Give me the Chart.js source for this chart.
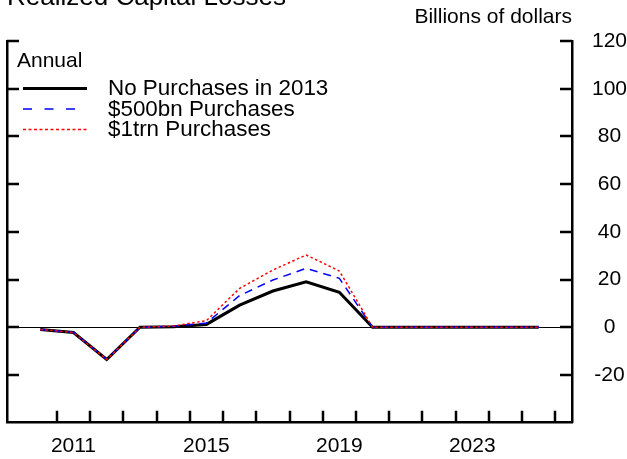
<!DOCTYPE html>
<html>
<head>
<meta charset="utf-8">
<script src="https://cdn.jsdelivr.net/npm/chart.js@4"></script>
<style>
  html, body { margin: 0; padding: 0; background: #fff; }
  #wrap { width: 627px; height: 459px; }
</style>
</head>
<body>
<div id="wrap"><canvas id="myChart" width="627" height="459"></canvas></div>
<script>
// data (billions of dollars, annual)
var years = [2010, 2011, 2012, 2013, 2014, 2015, 2016, 2017, 2018, 2019, 2020, 2021, 2022, 2023, 2024, 2025];
var noPurchases = [-0.9, -2.2, -13.5, 0, 0.2, 1.2, 9.3, 15.2, 19.1, 14.7, 0, 0, 0, 0, 0, 0];
var purch500bn  = [-0.9, -2.2, -13.5, 0, 0.4, 1.8, 13.3, 19.8, 24.7, 20.5, 0, 0, 0, 0, 0, 0];
var purch1trn   = [-0.9, -2.2, -13.5, 0, 0.5, 2.8, 16.3, 24.0, 30.3, 23.6, 0, 0, 0, 0, 0, 0];
var xTickLabels = [2011, 2015, 2019, 2023];
var seriesNames = ['No Purchases in 2013', '$500bn Purchases', '$1trn Purchases'];

var FONT = '"Liberation Sans", Arial, Helvetica, sans-serif';

function pts(vals) {
  return years.map(function(y, i) { return { x: y, y: vals[i] }; });
}

// title, unit label, "Annual" and the legend
var textPlugin = {
  id: 'texts',
  afterDraw: function(chart) {
    var c = chart.ctx;
    c.save();
    c.fillStyle = '#000';
    c.textBaseline = 'alphabetic';
    c.font = '26px ' + FONT;
    c.textAlign = 'left';
    c.fillText('Realized Capital Losses', 7, 5);
    c.font = '21px ' + FONT;
    c.textAlign = 'right';
    c.fillText('Billions of dollars', 572, 23);
    c.textAlign = 'left';
    c.fillText('Annual', 17, 67);

    c.font = '22.4px ' + FONT;
    var legDash = [[], [9, 12.5], [3, 2.5]];
    chart.data.datasets.forEach(function(ds, i) {
      var y = 88.5 + i * 20.5;
      c.beginPath();
      c.strokeStyle = ds.borderColor;
      c.lineWidth = ds.borderWidth;
      c.setLineDash(legDash[i]);
      c.moveTo(23, y);
      c.lineTo(87, y);
      c.stroke();
      c.setLineDash([]);
      c.textBaseline = 'middle';
      c.fillText(ds.label, 108, y + 0.5);
    });
    c.restore();
  }
};

// inward tick marks on left, right and bottom axes
var tickPlugin = {
  id: 'inTicks',
  afterDraw: function(chart) {
    var c = chart.ctx, xs = chart.scales.x, ys = chart.scales.y;
    var a = chart.chartArea, len = 12;
    c.save();
    c.strokeStyle = '#000';
    c.lineWidth = 2.5;
    c.beginPath();
    ys.ticks.forEach(function(t) {
      if (t.value <= ys.min) return;
      var py = Math.round(ys.getPixelForValue(t.value));
      c.moveTo(a.left, py); c.lineTo(a.left + len, py);
      c.moveTo(a.right, py); c.lineTo(a.right - len, py);
    });
    years.forEach(function(yr) {
      var px = Math.round(xs.getPixelForValue(yr + 0.5));
      c.moveTo(px, a.bottom); c.lineTo(px, a.bottom - len);
    });
    c.stroke();
    c.restore();
  }
};

var ctx = document.getElementById('myChart').getContext('2d');

var myChart = new Chart(ctx, {
  type: 'line',
  data: {
    datasets: [{
      label: seriesNames[0],
      data: pts(noPurchases),
      borderColor: '#000000',
      borderWidth: 3,
      pointRadius: 0,
      tension: 0,
      order: 3
    }, {
      label: seriesNames[1],
      data: pts(purch500bn),
      borderColor: '#0000ff',
      borderWidth: 1.5,
      borderDash: [8, 6],
      pointRadius: 0,
      tension: 0,
      order: 2
    }, {
      label: seriesNames[2],
      data: pts(purch1trn),
      borderColor: '#ff0000',
      borderWidth: 1.5,
      borderDash: [2.5, 2.5],
      pointRadius: 0,
      tension: 0,
      order: 1
    }]
  },
  options: {
    responsive: false,
    animation: false,
    layout: { padding: { top: 41, left: 7, right: 0, bottom: 0 } },
    plugins: {
      legend: { display: false },
      tooltip: { enabled: false }
    },
    scales: {
      x: {
        type: 'linear',
        min: 2009,
        max: 2026,
        afterBuildTicks: function(s) {
          s.ticks = xTickLabels.map(function(v) { return { value: v }; });
        },
        afterFit: function(s) { s.height = 36.3; },
        ticks: {
          color: '#000',
          font: { family: FONT, size: 21 },
          padding: 11,
          maxRotation: 0,
          callback: function(v) { return String(v); }
        },
        grid: { drawOnChartArea: false, drawTicks: false },
        border: { color: '#000', width: 2.5 }
      },
      y: {
        position: 'right',
        min: -40,
        max: 120,
        afterFit: function(s) { s.width = 55; },
        ticks: {
          stepSize: 20,
          color: '#000',
          font: { family: FONT, size: 21 },
          crossAlign: 'center',
          padding: 20,
          callback: function(v) { return v === -40 ? '' : v; }
        },
        grid: {
          drawTicks: false,
          lineWidth: 1,
          color: function(c) { return c.tick && c.tick.value === 0 ? '#000' : 'rgba(0,0,0,0)'; }
        },
        border: { color: '#000', width: 2.5 }
      },
      yL: {
        position: 'left',
        min: -40,
        max: 120,
        afterFit: function(s) { s.width = 0; },
        ticks: { display: false },
        grid: { drawOnChartArea: false, drawTicks: false },
        border: { color: '#000', width: 2.5 }
      }
    }
  },
  plugins: [textPlugin, tickPlugin]
});
</script>
</body>
</html>
